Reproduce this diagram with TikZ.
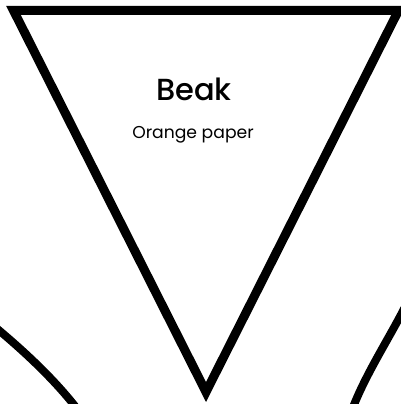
\documentclass[tikz,border=0pt]{standalone}
\usepackage{fontspec}
\setmainfont{Poppins}
\newfontfamily\medfont{Poppins}[UprightFont={* Medium}]
\begin{document}
\begin{tikzpicture}[x=1pt,y=-1pt,
  outline/.style={draw=black,line width=9pt,line join=miter},
  edge/.style={draw=black,line width=8pt},
  title/.style={font=\medfont\fontsize{30.5}{36}\selectfont,inner sep=0pt,anchor=base},
  sub/.style={font=\fontsize{17.2}{20}\selectfont,inner sep=0pt,anchor=base}]
\useasboundingbox (0,0) rectangle (401,404);
\clip (0,0) rectangle (401,404);
\coordinate (tl) at (13.5,10.5);
\coordinate (tr) at (398.5,10.5);
\coordinate (ap) at (206,392);
\draw[outline] (tl) -- (tr) -- (ap) -- cycle;
\node[title] (beak) at (194,100) {Beak};
\node[sub] (paper) at (193,138) {Orange paper};
\coordinate (l1) at (-5,327);
\coordinate (l2) at (78,410);
\draw[edge] (l1) .. controls (25,352) and (55,380) .. (l2);
\coordinate (r1) at (406,305);
\coordinate (r2) at (352,410);
\draw[edge] (r1) .. controls (390,337) and (365,375) .. (r2);
\end{tikzpicture}
\end{document}
